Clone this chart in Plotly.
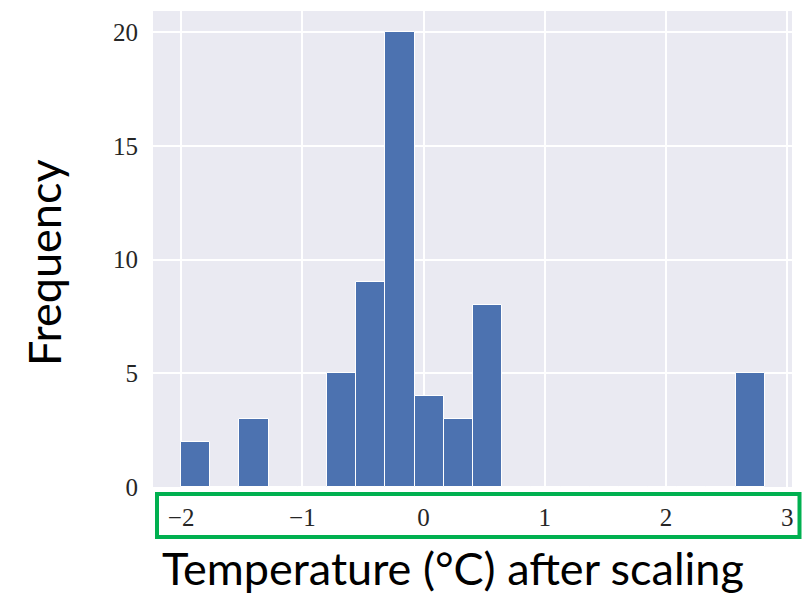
import plotly.graph_objects as go

# ---- data ----
bin_start = -2.0
bin_width = 0.2408
counts = [2, 0, 3, 0, 0, 5, 9, 20, 4, 3, 8, 0, 0, 0, 0, 0, 0, 0, 0, 5]
x_tickvals = [-2, -1, 0, 1, 2, 3]
x_ticktext = ["\u22122", "\u22121", "0", "1", "2", "3"]
y_tickvals = [0, 5, 10, 15, 20]
y_ticktext = ["0", "5", "10", "15", "20"]
x_title = "Temperature (°C) after scaling"
y_title = "Frequency"

centers = [bin_start + (i + 0.5) * bin_width for i in range(len(counts))]

W, H = 811, 593
L, R, T, B = 153, 19, 11, 106
pw, ph = W - L - R, H - T - B

def px(x):
    return (x - L) / pw

def py(y):
    return (H - B - y) / ph

fig = go.Figure()
fig.add_trace(go.Bar(
    x=centers, y=counts, width=[bin_width] * len(counts),
    marker=dict(color="#4C72B0", line=dict(color="white", width=1)),
    showlegend=False, hoverinfo="skip",
))

serif = "Liberation Serif, Times New Roman, serif"
fig.update_layout(
    width=W, height=H,
    margin=dict(l=L, r=R, t=T, b=B, pad=0),
    paper_bgcolor="white", plot_bgcolor="#EAEAF2",
    bargap=0,
    xaxis=dict(range=[-2.232, 3.04], tickvals=x_tickvals, ticktext=x_ticktext,
               showgrid=True, gridcolor="white", gridwidth=1.5, zeroline=False,
               showline=False, ticks="", ticklabelstandoff=13,
               tickfont=dict(family=serif, size=25, color="#262626")),
    yaxis=dict(range=[0, 20.93], tickvals=y_tickvals, ticktext=y_ticktext,
               showgrid=True, gridcolor="white", gridwidth=1.5, zeroline=False,
               showline=False, ticks="", ticklabelstandoff=14,
               tickfont=dict(family=serif, size=25, color="#262626")),
    annotations=[
        dict(text=x_title, xref="paper", yref="paper", x=px(160), y=py(568),
             xanchor="left", yanchor="middle", showarrow=False,
             font=dict(family="Lato, sans-serif", size=45, color="black")),
        dict(text=y_title, xref="paper", yref="paper", x=px(44), y=py(263),
             xanchor="center", yanchor="middle", textangle=-90, showarrow=False,
             font=dict(family="Lato, sans-serif", size=45, color="black")),
    ],
    shapes=[
        dict(type="rect", xref="paper", yref="paper",
             x0=px(157), x1=px(799.5), y0=py(537), y1=py(494),
             line=dict(color="#00B050", width=4), fillcolor="rgba(0,0,0,0)"),
    ],
)

fig.write_html("out.html")
